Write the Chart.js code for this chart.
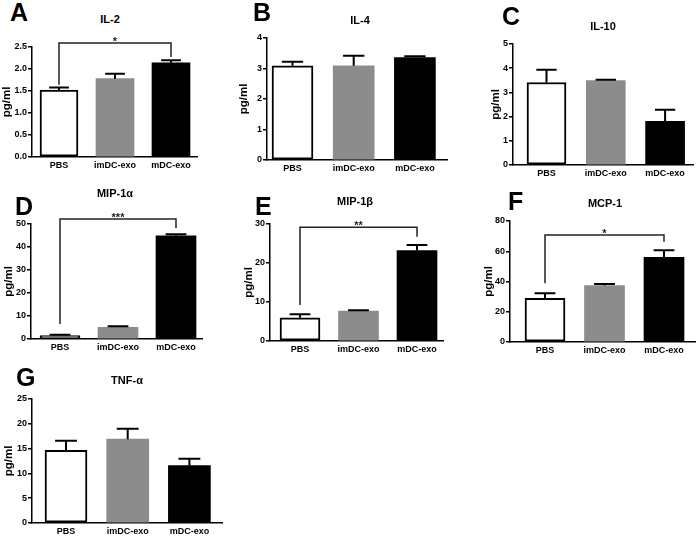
<!DOCTYPE html>
<html>
<head>
<meta charset="utf-8">
<script src="https://cdn.jsdelivr.net/npm/chart.js@4.4.0/dist/chart.umd.min.js"></script>
<style>
  html, body { margin: 0; padding: 0; background: #fff; }
  #page { position: relative; width: 700px; height: 540px; overflow: hidden; font-family: "Liberation Sans", Arial, sans-serif; }
  canvas { position: absolute; }
  .letter { position: absolute; font-size: 25px; font-weight: bold; line-height: 25px; color: #000; }
  .title { position: absolute; font-size: 11px; font-weight: bold; transform: translate(-50%, -50%); white-space: nowrap; color: #000; }
</style>
</head>
<body>
<div id="page"></div>
<script>
const groups = ["PBS", "imDC-exo", "mDC-exo"];

// mean values and top of error bar (mean + error)
const il2Mean = [1.52, 1.78, 2.14];
const il2Upper = [1.58, 1.89, 2.20];
const il4Mean = [3.09, 3.09, 3.36];
const il4Upper = [3.22, 3.42, 3.40];
const il10Mean = [3.41, 3.49, 1.80];
const il10Upper = [3.94, 3.52, 2.28];
const mip1aMean = [1.45, 5.06, 44.9];
const mip1aUpper = [1.9, 5.5, 45.5];
const mip1bMean = [5.93, 7.65, 23.2];
const mip1bUpper = [6.88, 7.9, 24.6];
const mcp1Mean = [28.9, 37.3, 55.9];
const mcp1Upper = [32.2, 38.4, 60.7];
const tnfMean = [14.65, 16.9, 11.56];
const tnfUpper = [16.6, 19.0, 12.97];

const il2Ticks = [0, 0.5, 1, 1.5, 2, 2.5];
const il4Ticks = [0, 1, 2, 3, 4];
const il10Ticks = [0, 1, 2, 3, 4, 5];
const mip1aTicks = [0, 10, 20, 30, 40, 50];
const mip1bTicks = [0, 10, 20, 30];
const mcp1Ticks = [0, 20, 40, 60, 80];
const tnfTicks = [0, 5, 10, 15, 20, 25];

// significance brackets: bracket height, left/right leg ends
const il2Sig = { y: 2.59, left: 1.64, right: 2.27, text: "*" };
const mip1aSig = { y: 52.2, left: 6.5, right: 48.3, text: "***" };
const mip1bSig = { y: 29.15, left: 9.2, right: 26.7, text: "**" };
const mcp1Sig = { y: 70.7, left: 38.8, right: 66.3, text: "*" };

const barFill = ["#ffffff", "#8c8c8c", "#000000"];
const barEdge = ["#000000", "#8c8c8c", "#000000"];
const barBorder = [2, 0, 0];

const FONT = "'Liberation Sans', Arial, sans-serif";
const PT = 16, PR = 5, XH = 18;

const panels = [
  { letter: "A", title: "IL-2", mean: il2Mean, upper: il2Upper, ticks: il2Ticks, dec: 1, sig: il2Sig,
    box: { axisX: 32, topY: 47, bottomY: 157, rightX: 197, c0: 59, sp: 56, bw: 38, yw: 32 },
    letterAt: [10, 0], titleAt: [110, 19] },
  { letter: "B", title: "IL-4", mean: il4Mean, upper: il4Upper, ticks: il4Ticks, dec: 0, sig: null,
    box: { axisX: 267, topY: 38, bottomY: 160, rightX: 447, c0: 292.5, sp: 61.2, bw: 41, yw: 30 },
    letterAt: [253, 0], titleAt: [360, 20] },
  { letter: "C", title: "IL-10", mean: il10Mean, upper: il10Upper, ticks: il10Ticks, dec: 0, sig: null,
    box: { axisX: 513, topY: 44, bottomY: 165, rightX: 693, c0: 546.5, sp: 59.3, bw: 39, yw: 24 },
    letterAt: [502, 4], titleAt: [603, 26] },
  { letter: "D", title: "MIP-1α", mean: mip1aMean, upper: mip1aUpper, ticks: mip1aTicks, dec: 0, sig: mip1aSig,
    box: { axisX: 31, topY: 224, bottomY: 339, rightX: 202, c0: 60, sp: 58, bw: 40, yw: 29 },
    letterAt: [15, 194], titleAt: [115, 193] },
  { letter: "E", title: "MIP-1β", mean: mip1bMean, upper: mip1bUpper, ticks: mip1bTicks, dec: 0, sig: mip1bSig,
    box: { axisX: 270, topY: 224, bottomY: 341, rightX: 443, c0: 300, sp: 58.5, bw: 40, yw: 28 },
    letterAt: [255, 194], titleAt: [355, 201] },
  { letter: "F", title: "MCP-1", mean: mcp1Mean, upper: mcp1Upper, ticks: mcp1Ticks, dec: 0, sig: mcp1Sig,
    box: { axisX: 510, topY: 221, bottomY: 342, rightX: 695, c0: 545, sp: 59.5, bw: 40, yw: 28 },
    letterAt: [508, 189], titleAt: [605, 203] },
  { letter: "G", title: "TNF-α", mean: tnfMean, upper: tnfUpper, ticks: tnfTicks, dec: 0, sig: null,
    box: { axisX: 32, topY: 399, bottomY: 523, rightX: 222, c0: 66, sp: 61.7, bw: 42, yw: 30 },
    letterAt: [16, 365], titleAt: [127, 380] },
];

function errorPlugin(p) {
  return {
    id: "errorBars",
    afterDatasetsDraw(chart) {
      const { ctx, scales: { x, y } } = chart;
      ctx.save();
      ctx.strokeStyle = "#000";
      ctx.lineWidth = 2;
      const half = p.box.bw * 0.26;
      p.mean.forEach((m, i) => {
        const px = x.getPixelForValue(i);
        const y0 = y.getPixelForValue(m);
        const y1 = y.getPixelForValue(p.upper[i]);
        ctx.beginPath();
        ctx.moveTo(px, y0);
        ctx.lineTo(px, y1);
        ctx.moveTo(px - half, y1);
        ctx.lineTo(px + half, y1);
        ctx.stroke();
      });
      if (p.sig) {
        const s = p.sig;
        const xl = x.getPixelForValue(0), xr = x.getPixelForValue(2);
        const yb = y.getPixelForValue(s.y);
        ctx.strokeStyle = "#222";
        ctx.lineWidth = 1.5;
        ctx.beginPath();
        ctx.moveTo(xl, y.getPixelForValue(s.left));
        ctx.lineTo(xl, yb);
        ctx.lineTo(xr, yb);
        ctx.lineTo(xr, y.getPixelForValue(s.right));
        ctx.stroke();
        ctx.fillStyle = "#222";
        ctx.font = "bold 11px " + FONT;
        ctx.textAlign = "center";
        ctx.textBaseline = "alphabetic";
        ctx.fillText(s.text, (xl + xr) / 2, yb + 2);
      }
      ctx.restore();
    },
  };
}

const page = document.getElementById("page");

panels.forEach((p) => {
  const b = p.box;
  const canvas = document.createElement("canvas");
  const w = b.yw + (b.rightX - b.axisX) + PR;
  const h = PT + (b.bottomY - b.topY) + XH;
  canvas.width = w;
  canvas.height = h;
  canvas.style.left = (b.axisX - b.yw) + "px";
  canvas.style.top = (b.topY - PT) + "px";
  page.appendChild(canvas);

  const letter = document.createElement("div");
  letter.className = "letter";
  letter.textContent = p.letter;
  letter.style.left = p.letterAt[0] + "px";
  letter.style.top = p.letterAt[1] + "px";
  page.appendChild(letter);

  const title = document.createElement("div");
  title.className = "title";
  title.textContent = p.title;
  title.style.left = p.titleAt[0] + "px";
  title.style.top = p.titleAt[1] + "px";
  page.appendChild(title);

  new Chart(canvas, {
    type: "bar",
    data: {
      datasets: [{
        data: p.mean.map((v, i) => ({ x: i, y: v })),
        backgroundColor: barFill,
        borderColor: barEdge,
        borderWidth: barBorder,
        borderSkipped: false,
        barThickness: b.bw,
      }],
    },
    options: {
      responsive: false,
      animation: false,
      devicePixelRatio: 1,
      layout: { padding: { left: 0, top: PT, right: PR, bottom: 0 } },
      plugins: { legend: { display: false }, tooltip: { enabled: false } },
      scales: {
        x: {
          type: "linear",
          offset: false,
          min: (b.axisX - b.c0) / b.sp,
          max: (b.rightX - b.c0) / b.sp,
          afterBuildTicks: (s) => { s.ticks = groups.map((g, i) => ({ value: i })); },
          afterFit: (s) => { s.height = XH; },
          grid: { display: false, drawTicks: false, offset: false },
          border: { display: true, color: "#000", width: 1.5 },
          ticks: {
            autoSkip: false, maxRotation: 0, padding: 3, color: "#000",
            font: { family: FONT, size: 9, weight: "bold" },
            callback: (v, i) => groups[i],
          },
        },
        y: {
          min: 0,
          max: p.ticks[p.ticks.length - 1],
          afterBuildTicks: (s) => { s.ticks = p.ticks.map((v) => ({ value: v })); },
          afterFit: (s) => { s.width = b.yw; },
          grid: { display: true, drawOnChartArea: false, drawTicks: true, tickLength: 4, color: "#000", lineWidth: 1.5 },
          border: { display: true, color: "#000", width: 1.5 },
          ticks: {
            padding: 1, color: "#000",
            font: { family: FONT, size: 9, weight: "bold" },
            callback: (v) => v.toFixed(p.dec),
          },
          title: {
            display: true, text: "pg/ml", color: "#000", padding: 0,
            font: { family: FONT, size: 11.5, weight: "bold" },
          },
        },
      },
    },
    plugins: [errorPlugin(p)],
  });
});
</script>
</body>
</html>
